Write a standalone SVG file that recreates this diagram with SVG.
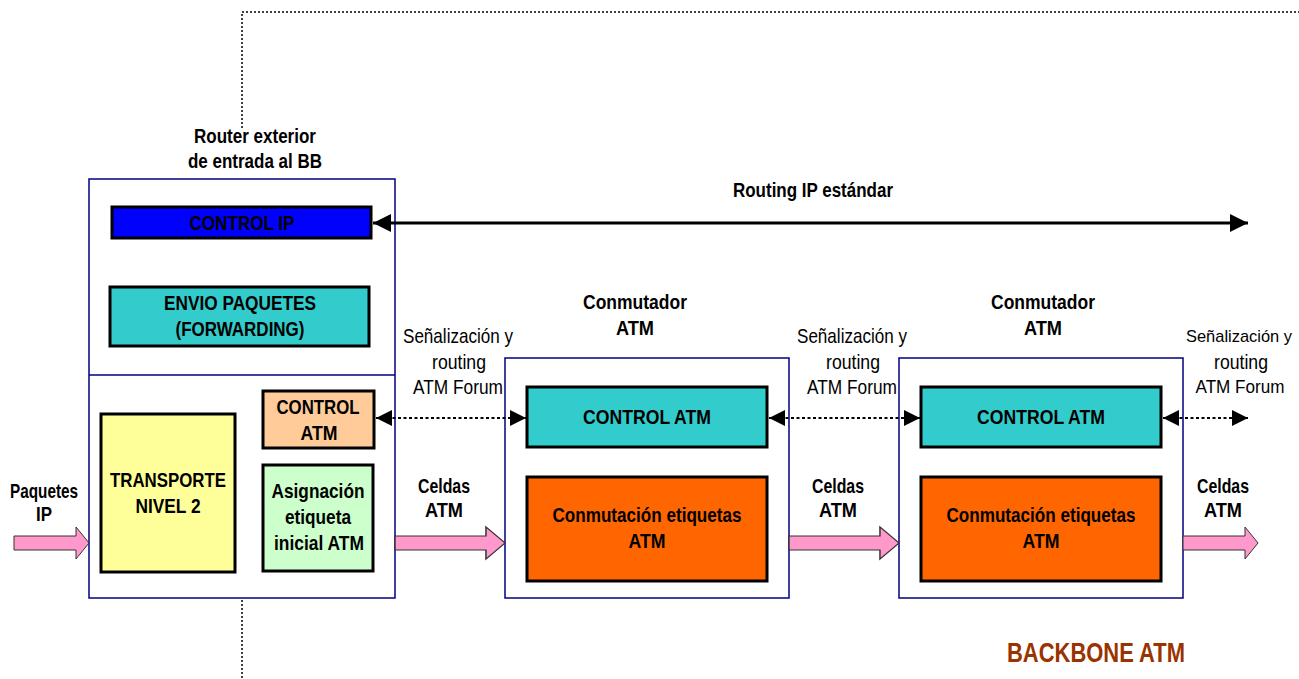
<svg xmlns="http://www.w3.org/2000/svg" width="1299" height="679" viewBox="0 0 1299 679">
  <style>
    text { font-family: "Liberation Sans Narrow", "Liberation Sans", Arial, sans-serif; font-size: 21px; fill: #000; text-anchor: middle; }
    .b { font-weight: bold; }
    .edge { font-size: 18.5px; }
    .edge2 { font-size: 17px; }
    .frame { fill: #fff; stroke: #000080; stroke-width: 1.5; }
    .blk { stroke: #000; stroke-width: 3; }
    .dot { fill: none; stroke: #000; stroke-width: 1.5; stroke-dasharray: 2 2; }
    .sig { fill: none; stroke: #000; stroke-width: 2; stroke-dasharray: 3 2.5; }
    .pink { fill: #FF99CC; stroke: #333; stroke-width: 1; }
  </style>
  <defs>
    <marker id="ah" viewBox="0 0 10 10" refX="10" refY="5" markerWidth="6" markerHeight="6" markerUnits="strokeWidth" orient="auto-start-reverse">
      <path d="M0,0 L10,5 L0,10 z" fill="#000"/>
    </marker>
    <marker id="ahs" viewBox="0 0 10 10" refX="10" refY="5" markerWidth="9" markerHeight="8" markerUnits="strokeWidth" orient="auto-start-reverse">
      <path d="M0,0 L10,5 L0,10 z" fill="#000"/>
    </marker>
    <path id="pk" d="M0,-7 L62,-7 L62,-16 L75,0 L62,16 L62,7 L0,7 z"/>
  </defs>

  <!-- backbone boundary -->
  <g id="boundary">
    <path class="dot" d="M242,128 L242,12 L1299,12"/>
    <path class="dot" d="M242,600 L242,679"/>
  </g>

  <!-- edge router -->
  <g id="router">
    <rect class="frame" x="89" y="179" width="306" height="419"/>
    <line x1="89" y1="375" x2="395" y2="375" stroke="#000080" stroke-width="1.5"/>
    <text class="b" x="255" y="143" textLength="122" lengthAdjust="spacingAndGlyphs">Router exterior</text>
    <text class="b" x="255" y="168" textLength="134" lengthAdjust="spacingAndGlyphs">de entrada al BB</text>
  </g>
  <g id="control-ip">
    <rect class="blk" x="112" y="207" width="259" height="31" fill="#0000FF"/>
    <text class="b" x="242" y="230" textLength="105" lengthAdjust="spacingAndGlyphs">CONTROL IP</text>
  </g>
  <g id="envio-paquetes">
    <rect class="blk" x="110" y="287" width="259" height="59" fill="#33CCCC"/>
    <text class="b" x="240" y="310" textLength="152" lengthAdjust="spacingAndGlyphs">ENVIO PAQUETES</text>
    <text class="b" x="240" y="336" textLength="129" lengthAdjust="spacingAndGlyphs">(FORWARDING)</text>
  </g>
  <g id="transporte">
    <rect class="blk" x="101" y="414" width="134" height="158" fill="#FFFF99"/>
    <text class="b" x="168" y="487" textLength="116" lengthAdjust="spacingAndGlyphs">TRANSPORTE</text>
    <text class="b" x="168" y="513" textLength="65" lengthAdjust="spacingAndGlyphs">NIVEL 2</text>
  </g>
  <g id="control-atm-router">
    <rect class="blk" x="263" y="391" width="111" height="57" fill="#FFCC99"/>
    <text class="b" x="318" y="414" textLength="83" lengthAdjust="spacingAndGlyphs">CONTROL</text>
    <text class="b" x="319" y="440" textLength="37" lengthAdjust="spacingAndGlyphs">ATM</text>
  </g>
  <g id="asignacion">
    <rect class="blk" x="263" y="465" width="110" height="106" fill="#CCFFCC"/>
    <text class="b" x="318" y="498" textLength="93" lengthAdjust="spacingAndGlyphs">Asignación</text>
    <text class="b" x="318" y="524" textLength="66" lengthAdjust="spacingAndGlyphs">etiqueta</text>
    <text class="b" x="319" y="550" textLength="90" lengthAdjust="spacingAndGlyphs">inicial ATM</text>
  </g>

  <!-- ATM switch 1 -->
  <g id="switch1">
    <rect class="frame" x="505" y="358" width="284" height="240"/>
    <text class="b" x="635" y="309" textLength="104" lengthAdjust="spacingAndGlyphs">Conmutador</text>
    <text class="b" x="635" y="335" textLength="38" lengthAdjust="spacingAndGlyphs">ATM</text>
    <rect class="blk" x="527" y="387" width="240" height="60" fill="#33CCCC"/>
    <text class="b" x="647" y="424" textLength="128" lengthAdjust="spacingAndGlyphs">CONTROL ATM</text>
    <rect class="blk" x="527" y="477" width="240" height="104" fill="#FF6600"/>
    <text class="b" x="647" y="522" textLength="189" lengthAdjust="spacingAndGlyphs">Conmutación etiquetas</text>
    <text class="b" x="647" y="548" textLength="37" lengthAdjust="spacingAndGlyphs">ATM</text>
  </g>

  <!-- ATM switch 2 -->
  <g id="switch2">
    <rect class="frame" x="899" y="358" width="284" height="240"/>
    <text class="b" x="1043" y="309" textLength="104" lengthAdjust="spacingAndGlyphs">Conmutador</text>
    <text class="b" x="1043" y="335" textLength="38" lengthAdjust="spacingAndGlyphs">ATM</text>
    <rect class="blk" x="921" y="387" width="240" height="60" fill="#33CCCC"/>
    <text class="b" x="1041" y="424" textLength="128" lengthAdjust="spacingAndGlyphs">CONTROL ATM</text>
    <rect class="blk" x="921" y="477" width="240" height="104" fill="#FF6600"/>
    <text class="b" x="1041" y="522" textLength="189" lengthAdjust="spacingAndGlyphs">Conmutación etiquetas</text>
    <text class="b" x="1041" y="548" textLength="37" lengthAdjust="spacingAndGlyphs">ATM</text>
  </g>

  <!-- connectors -->
  <g id="connectors">
    <line x1="373" y1="223" x2="1248" y2="223" stroke="#000" stroke-width="3" marker-start="url(#ah)" marker-end="url(#ah)"/>
    <line class="sig" x1="376" y1="418" x2="526" y2="418" marker-start="url(#ahs)" marker-end="url(#ahs)"/>
    <line class="sig" x1="769" y1="418" x2="920" y2="418" marker-start="url(#ahs)" marker-end="url(#ahs)"/>
    <line class="sig" x1="1163" y1="418" x2="1248" y2="418" marker-start="url(#ahs)" marker-end="url(#ahs)"/>
    <use href="#pk" class="pink" transform="translate(14,543)"/>
    <use href="#pk" class="pink" transform="translate(395,543) scale(1.467,1)"/>
    <use href="#pk" class="pink" transform="translate(789,543) scale(1.467,1)"/>
    <use href="#pk" class="pink" transform="translate(1183,543)"/>
  </g>

  <!-- labels -->
  <g id="labels">
    <text class="b" x="813" y="197" textLength="160" lengthAdjust="spacingAndGlyphs">Routing IP estándar</text>
    <text x="458" y="343" textLength="110" lengthAdjust="spacingAndGlyphs">Señalización y</text>
    <text x="459" y="369" textLength="54" lengthAdjust="spacingAndGlyphs">routing</text>
    <text x="458" y="394" textLength="90" lengthAdjust="spacingAndGlyphs">ATM Forum</text>
    <text x="852" y="343" textLength="110" lengthAdjust="spacingAndGlyphs">Señalización y</text>
    <text x="853" y="369" textLength="54" lengthAdjust="spacingAndGlyphs">routing</text>
    <text x="852" y="394" textLength="90" lengthAdjust="spacingAndGlyphs">ATM Forum</text>
    <text class="edge2" x="1239" y="342" textLength="106" lengthAdjust="spacingAndGlyphs">Señalización y</text>
    <text x="1241" y="369" textLength="54" lengthAdjust="spacingAndGlyphs">routing</text>
    <text class="edge" x="1240" y="393" textLength="89" lengthAdjust="spacingAndGlyphs">ATM Forum</text>
    <text class="b" x="444" y="493" textLength="52" lengthAdjust="spacingAndGlyphs">Celdas</text>
    <text class="b" x="444" y="517" textLength="38" lengthAdjust="spacingAndGlyphs">ATM</text>
    <text class="b" x="838" y="493" textLength="52" lengthAdjust="spacingAndGlyphs">Celdas</text>
    <text class="b" x="838" y="517" textLength="38" lengthAdjust="spacingAndGlyphs">ATM</text>
    <text class="b" x="1223" y="493" textLength="52" lengthAdjust="spacingAndGlyphs">Celdas</text>
    <text class="b" x="1223" y="517" textLength="38" lengthAdjust="spacingAndGlyphs">ATM</text>
    <text class="b" x="44" y="498" textLength="68" lengthAdjust="spacingAndGlyphs">Paquetes</text>
    <text class="b" x="44" y="521" textLength="16" lengthAdjust="spacingAndGlyphs">IP</text>
    <text class="b" x="1096" y="662" textLength="178" lengthAdjust="spacingAndGlyphs" style="font-size:27px;fill:#993300">BACKBONE ATM</text>
  </g>
</svg>
